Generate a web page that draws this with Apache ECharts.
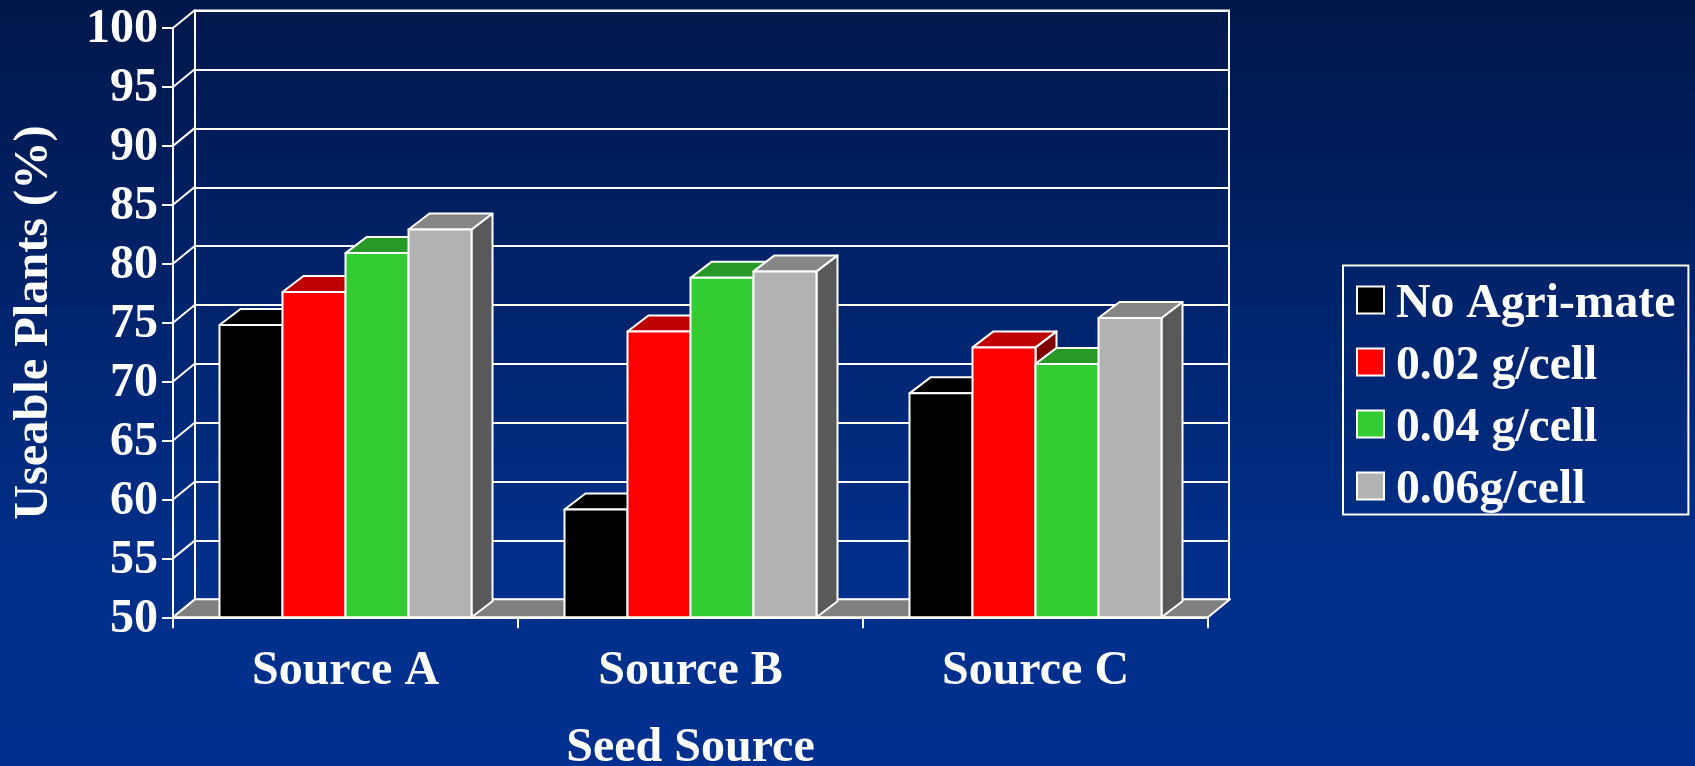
<!DOCTYPE html>
<html>
<head>
<meta charset="utf-8">
<title>Useable Plants by Seed Source</title>
<script src="https://cdn.jsdelivr.net/npm/echarts@6/dist/echarts.min.js"></script>
<style>
html, body { margin: 0; padding: 0; background: #00308f; }
#main { width: 1695px; height: 766px; }
</style>
</head>
<body>
<div id="main"></div>
<script>
var categories = ["Source A", "Source B", "Source C"];
var seriesNames = ["No Agri-mate", "0.02 g/cell", "0.04 g/cell", "0.06g/cell"];
var noAgriMate = [74.8, 59.15, 69.0];
var g002 = [77.6, 74.25, 72.9];
var g004 = [80.9, 78.8, 71.5];
var g006 = [82.9, 79.35, 75.4];
var yTicks = [50, 55, 60, 65, 70, 75, 80, 85, 90, 95, 100];

var frontColors = ["#000000", "#ff0000", "#33cc33", "#b2b2b2"];
var topColors = ["#000000", "#bf0000", "#269926", "#868686"];
var sideColors = ["#000000", "#7f0000", "#196619", "#595959"];

var FONT = "Liberation Serif";
var BAR_W = 63;
var DEPTH_X = 21;
var DEPTH_Y = 16;
var WALL_X = 22;
var WALL_Y = 18;
// swatch sits in the upper part of the icon box so the text lands a bit lower than it
var LEGEND_ICON = "path://M0 0H27V27H0Z M0 36L0 36";

function edgeStyle(aFill) {
    return { fill: aFill, stroke: "#ffffff", lineWidth: 2, lineJoin: "round" };
}

// one 3d bar: side and top faces first, then the front
function makeBarRender(aIdx) {
    return function (params, api) {
        var aCat = api.value(0);
        var aTop = api.coord([aCat, api.value(1)]);
        var aBase = api.coord([aCat, 50]);
        var x0 = aTop[0] + (aIdx - 2) * BAR_W;
        var x1 = x0 + BAR_W;
        var y0 = aTop[1];
        var y1 = aBase[1];
        return {
            type: "group",
            children: [
                { type: "polygon", shape: { points: [[x1, y0], [x1 + DEPTH_X, y0 - DEPTH_Y], [x1 + DEPTH_X, y1 - DEPTH_Y], [x1, y1]] }, style: edgeStyle(sideColors[aIdx]) },
                { type: "polygon", shape: { points: [[x0, y0], [x0 + DEPTH_X, y0 - DEPTH_Y], [x1 + DEPTH_X, y0 - DEPTH_Y], [x1, y0]] }, style: edgeStyle(topColors[aIdx]) },
                { type: "rect", shape: { x: x0, y: y0, width: BAR_W, height: y1 - y0 }, style: edgeStyle(frontColors[aIdx]) }
            ]
        };
    };
}

// slanted lines on the left wall, one for each y tick
function renderWallLine(params, api) {
    var aX = params.coordSys.x;
    var aY = api.coord([0, api.value(0)])[1];
    return {
        type: "line",
        shape: { x1: aX, y1: aY, x2: aX + WALL_X, y2: aY - WALL_Y },
        style: { stroke: "#ffffff", lineWidth: 2 }
    };
}

// gray floor between the front axis and the back wall
function renderFloor(params, api) {
    var aSys = params.coordSys;
    var aY = api.coord([0, 50])[1];
    return {
        type: "polygon",
        shape: { points: [[aSys.x, aY], [aSys.x + WALL_X, aY - WALL_Y], [aSys.x + aSys.width + WALL_X, aY - WALL_Y], [aSys.x + aSys.width, aY]] },
        style: edgeStyle("#808080")
    };
}

var barValues = [noAgriMate, g002, g004, g006];
var aSeries = [
    { type: "custom", name: "wall", renderItem: renderWallLine, data: yTicks.map(function (v) { return [v]; }), encode: { y: 0 }, silent: true, z: 1 },
    { type: "custom", name: "floor", renderItem: renderFloor, data: [[0, 50]], encode: { x: 0, y: 1 }, silent: true, z: 1 }
];
seriesNames.forEach(function (aName, i) {
    aSeries.push({
        type: "custom",
        name: aName,
        renderItem: makeBarRender(i),
        data: barValues[i].map(function (v, c) { return [c, v]; }),
        encode: { x: 0, y: 1 },
        itemStyle: { color: frontColors[i] },
        z: 3
    });
});

var aOption = {
    animation: false,
    backgroundColor: {
        type: "linear", x: 0, y: 0, x2: 0, y2: 1,
        colorStops: [{ offset: 0, color: "#00174a" }, { offset: 0.75, color: "#002f8a" }, { offset: 1, color: "#00308f" }]
    },
    textStyle: { fontFamily: FONT, fontWeight: "bold", color: "#ffffff" },
    grid: [
        { left: 173, top: 28, width: 1035, height: 589.3, outerBoundsMode: "none" },
        { left: 195, top: 10.5, width: 1034, height: 589.3, outerBoundsMode: "none", show: true, borderColor: "#ffffff", borderWidth: 2, backgroundColor: "transparent" }
    ],
    xAxis: [
        {
            type: "category", gridIndex: 0, data: categories,
            axisLine: { show: true, lineStyle: { color: "#ffffff", width: 2 } },
            axisTick: { show: true, length: 11, lineStyle: { color: "#ffffff", width: 2 } },
            splitLine: { show: false },
            axisLabel: { color: "#ffffff", fontFamily: FONT, fontWeight: "bold", fontSize: 48, margin: 30 },
            name: "Seed Source", nameLocation: "middle", nameGap: 107,
            nameTextStyle: { color: "#ffffff", fontFamily: FONT, fontWeight: "bold", fontSize: 48 }
        },
        { type: "category", gridIndex: 1, data: categories, show: false }
    ],
    yAxis: [
        {
            type: "value", gridIndex: 0, min: 50, max: 100, interval: 5,
            axisLine: { show: true, lineStyle: { color: "#ffffff", width: 2 } },
            axisTick: { show: true, length: 11, lineStyle: { color: "#ffffff", width: 2 } },
            splitLine: { show: false },
            axisLabel: {
                margin: 15, formatter: "{v|{value}}",
                rich: { v: { color: "#ffffff", fontFamily: FONT, fontWeight: "bold", fontSize: 48, lineHeight: 52, verticalAlign: "bottom" } }
            },
            name: "Useable Plants (%)", nameLocation: "middle", nameGap: 114, nameRotate: 90,
            nameTextStyle: { color: "#ffffff", fontFamily: FONT, fontWeight: "bold", fontSize: 48.3 }
        },
        {
            type: "value", gridIndex: 1, min: 50, max: 100, interval: 5,
            axisLine: { show: false }, axisTick: { show: false }, axisLabel: { show: false },
            splitLine: { show: true, lineStyle: { color: "#ffffff", width: 2 } }
        }
    ],
    legend: {
        orient: "vertical", left: 1343, top: 265.5,
        padding: [15, 13, 0, 13],
        borderColor: "#ffffff", borderWidth: 2,
        itemWidth: 27, itemHeight: 36, itemGap: 14,
        selectedMode: false,
        textStyle: { color: "#ffffff", fontFamily: FONT, fontWeight: "bold", fontSize: 47.7, padding: [0, 0, 0, 7] },
        data: seriesNames.map(function (aName, i) {
            return { name: aName, icon: LEGEND_ICON, itemStyle: { color: frontColors[i], borderColor: "#ffffff", borderWidth: 2 } };
        })
    },
    series: aSeries
};

var aChart = echarts.init(document.getElementById("main"));
aChart.setOption(aOption);
</script>
</body>
</html>
